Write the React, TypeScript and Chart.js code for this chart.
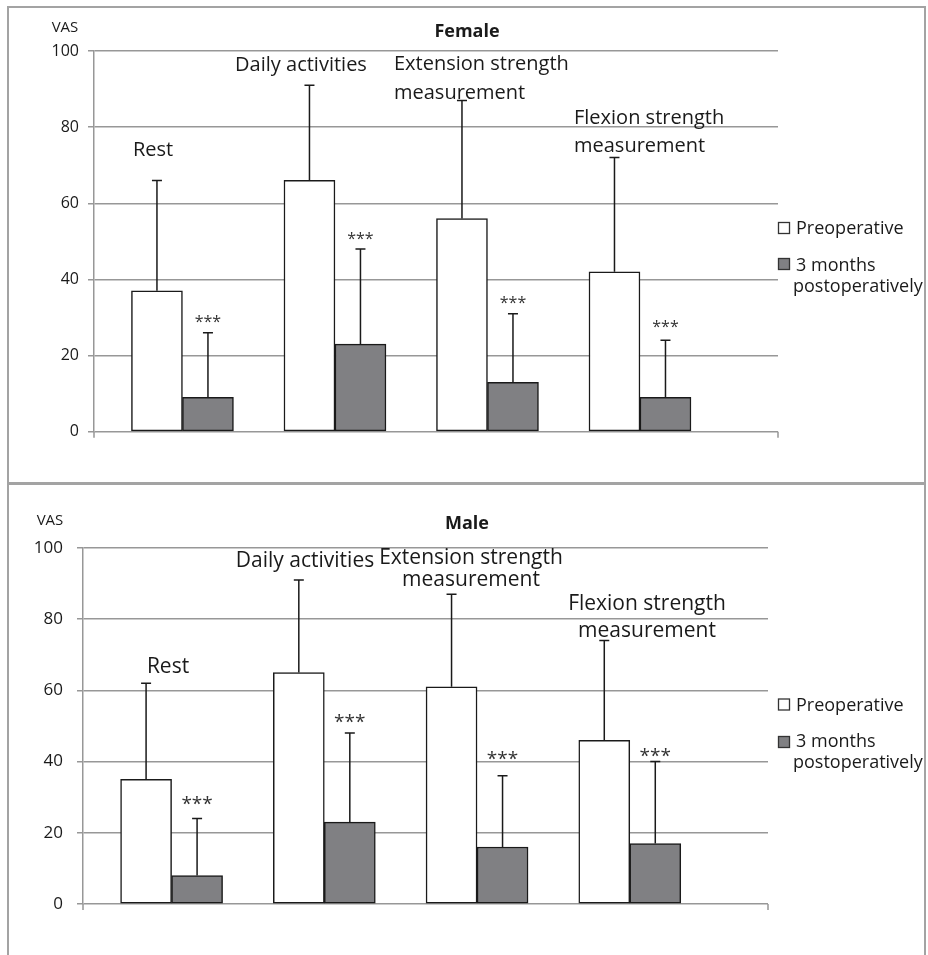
import React, { useEffect, useRef } from "react";
import { Chart, registerables } from "chart.js";

Chart.register(...registerables);

// ---------------- DATA ----------------
const categoryLines = [
  ["Rest"],
  ["Daily activities"],
  ["Extension strength", "measurement"],
  ["Flexion strength", "measurement"],
];
const seriesNames = ["Preoperative", "3 months postoperatively"];
const legendLines = [["Preoperative"], ["3 months", "postoperatively"]];
const yTicks = [0, 20, 40, 60, 80, 100];
const significance = ["***", "***", "***", "***"];

const femalePreop = [37, 66, 56, 42];
const femalePreopSD = [29, 25, 31, 30];
const femalePost = [9, 23, 13, 9];
const femalePostSD = [17, 25, 18, 15];

const malePreop = [35, 65, 61, 46];
const malePreopSD = [27, 26, 26, 28];
const malePost = [8, 23, 16, 17];
const malePostSD = [16, 25, 20, 23];

// ---------------- STYLE / LAYOUT ----------------
const FONT = '"Open Sans", "Noto Sans", sans-serif';
const TEXT = "#1a1a1a";
const GRID = "#979797";
const EDGE = "#1a1a1a";
const GRAY_FILL = "#808083";
const PANEL_BORDER = "#a3a3a3";

type LabelPos = { x: number; y: number; align: CanvasTextAlign; gap: number };

type Layout = {
  canvasTop: number;
  canvasHeight: number;
  area: { left: number; top: number; right: number; bottom: number };
  tickFont: number;
  tickPad: number;
  vas: { x: number; y: number; size: number };
  title: { x: number; y: number; size: number };
  catFont: number;
  cats: LabelPos[];
  legend: { boxX: number; box: number; textX: number; line2X: number; font: number; rows: { boxTop: number; base: number; base2?: number }[] };
  starFont: number;
  starGap: number[];
  barWidth: number;
  xMin: number;
  xMax: number;
};

const femaleLayout: Layout = {
  canvasTop: 0,
  canvasHeight: 482,
  area: { left: 94, top: 51, right: 778, bottom: 431.7 },
  tickFont: 16,
  tickPad: 9,
  vas: { x: 65, y: 32, size: 15 },
  title: { x: 467, y: 37, size: 18 },
  catFont: 20,
  cats: [
    { x: 153, y: 156, align: "center", gap: 29 },
    { x: 301, y: 71, align: "center", gap: 29 },
    { x: 394, y: 69.5, align: "left", gap: 29.5 },
    { x: 574, y: 123.6, align: "left", gap: 28.2 },
  ],
  legend: {
    boxX: 778,
    box: 12,
    textX: 796,
    line2X: 793,
    font: 18,
    rows: [
      { boxTop: 222, base: 234 },
      { boxTop: 258, base: 270.7, base2: 291.7 },
    ],
  },
  starFont: 16,
  starGap: [15, 14, 15, 18],
  barWidth: 51,
  xMin: 0.42,
  xMax: 4.905,
};

const maleLayout: Layout = {
  canvasTop: 486,
  canvasHeight: 469,
  area: { left: 83, top: 548 - 486, right: 768, bottom: 904 - 486 },
  tickFont: 17,
  tickPad: 14,
  vas: { x: 50, y: 525 - 486, size: 15 },
  title: { x: 467, y: 529 - 486, size: 18 },
  catFont: 21,
  cats: [
    { x: 168, y: 673 - 486, align: "center", gap: 24 },
    { x: 305, y: 567.4 - 486, align: "center", gap: 24 },
    { x: 471, y: 563.6 - 486, align: "center", gap: 22 },
    { x: 647, y: 609.6 - 486, align: "center", gap: 27 },
  ],
  legend: {
    boxX: 778,
    box: 12,
    textX: 796,
    line2X: 793,
    font: 18,
    rows: [
      { boxTop: 698.5 - 486, base: 710.7 - 486 },
      { boxTop: 736 - 486, base: 746.7 - 486, base2: 768.3 - 486 },
    ],
  },
  starFont: 19,
  starGap: [20, 16, 22, 11],
  barWidth: 51,
  xMin: 0.42,
  xMax: 4.905,
};

type PanelCfg = {
  title: string;
  preop: number[];
  preopSD: number[];
  post: number[];
  postSD: number[];
  layout: Layout;
};

function makeOverlay(cfg: PanelCfg) {
  const L = cfg.layout;
  return {
    id: "overlay",
    afterDatasetsDraw(chart: any) {
      const ctx: CanvasRenderingContext2D = chart.ctx;
      const yScale = chart.scales.y;
      const sets = [
        { vals: cfg.preop, sds: cfg.preopSD },
        { vals: cfg.post, sds: cfg.postSD },
      ];
      ctx.save();
      ctx.strokeStyle = EDGE;
      ctx.lineWidth = 1.5;
      sets.forEach((s, d) => {
        const meta = chart.getDatasetMeta(d);
        meta.data.forEach((el: any, i: number) => {
          const top = yScale.getPixelForValue(s.vals[i] + s.sds[i]);
          ctx.beginPath();
          ctx.moveTo(el.x, el.y);
          ctx.lineTo(el.x, top);
          ctx.moveTo(el.x - 5, top);
          ctx.lineTo(el.x + 5, top);
          ctx.stroke();
          if (d === 1) {
            ctx.fillStyle = "#333333";
            ctx.font = `${L.starFont}px ${FONT}`;
            ctx.textAlign = "center";
            ctx.textBaseline = "alphabetic";
            const cy = top - L.starGap[i];
            ctx.fillText(significance[i], el.x, cy + 0.58 * L.starFont);
          }
        });
      });
      ctx.restore();
    },
    afterDraw(chart: any) {
      const ctx: CanvasRenderingContext2D = chart.ctx;
      const a = chart.chartArea;
      ctx.save();
      // bottom tick marks at the ends of the category axis
      ctx.strokeStyle = GRID;
      ctx.lineWidth = 1.5;
      ctx.beginPath();
      ctx.moveTo(a.left, a.bottom);
      ctx.lineTo(a.left, a.bottom + 6);
      ctx.moveTo(a.right, a.bottom);
      ctx.lineTo(a.right, a.bottom + 6);
      ctx.stroke();

      ctx.fillStyle = TEXT;
      ctx.textBaseline = "alphabetic";
      // VAS
      ctx.font = `${L.vas.size}px ${FONT}`;
      ctx.textAlign = "center";
      ctx.fillText("VAS", L.vas.x, L.vas.y);
      // Title
      ctx.font = `bold ${L.title.size}px ${FONT}`;
      ctx.fillText(cfg.title, L.title.x, L.title.y);
      // Category labels
      ctx.font = `${L.catFont}px ${FONT}`;
      categoryLines.forEach((lines, i) => {
        const p = L.cats[i];
        ctx.textAlign = p.align;
        lines.forEach((t, k) => ctx.fillText(t, p.x, p.y + k * p.gap));
      });
      // Legend
      const lg = L.legend;
      ctx.font = `${lg.font}px ${FONT}`;
      ctx.textAlign = "left";
      lg.rows.forEach((r, i) => {
        ctx.fillStyle = i === 0 ? "#ffffff" : GRAY_FILL;
        ctx.fillRect(lg.boxX, r.boxTop, lg.box, lg.box);
        ctx.strokeStyle = "#333333";
        ctx.lineWidth = 1.3;
        ctx.strokeRect(lg.boxX + 0.5, r.boxTop + 0.5, lg.box - 1, lg.box - 1);
        ctx.fillStyle = TEXT;
        ctx.fillText(legendLines[i][0], lg.textX, r.base);
        if (legendLines[i][1] && r.base2 !== undefined) {
          ctx.fillText(legendLines[i][1], lg.line2X, r.base2);
        }
      });
      ctx.restore();
    },
  };
}

function Panel({ cfg }: { cfg: PanelCfg }) {
  const ref = useRef<HTMLCanvasElement>(null);
  useEffect(() => {
    const L = cfg.layout;
    const yWidth = 60;
    const chart = new Chart(ref.current as HTMLCanvasElement, {
      type: "bar",
      data: {
        datasets: [
          {
            label: seriesNames[0],
            data: cfg.preop.map((v, i) => ({ x: i + 1, y: v })),
            backgroundColor: "#ffffff",
            borderColor: EDGE,
            borderWidth: 1.5,
            borderSkipped: false,
            barThickness: L.barWidth,
          },
          {
            label: seriesNames[1],
            data: cfg.post.map((v, i) => ({ x: i + 1, y: v })),
            backgroundColor: GRAY_FILL,
            borderColor: EDGE,
            borderWidth: 1.5,
            borderSkipped: false,
            barThickness: L.barWidth,
          },
        ] as any,
      },
      options: {
        animation: false,
        responsive: false,
        maintainAspectRatio: false,
        devicePixelRatio: 1,
        layout: {
          padding: {
            left: L.area.left - yWidth,
            top: L.area.top,
            right: 928 - L.area.right,
            bottom: L.canvasHeight - L.area.bottom,
          },
        },
        plugins: {
          legend: { display: false },
          title: { display: false },
          tooltip: { enabled: false },
        },
        scales: {
          x: {
            type: "linear",
            display: false,
            offset: false,
            bounds: "data",
            grid: { offset: false },
            min: L.xMin,
            max: L.xMax,
            afterBuildTicks: (s: any) => {
              s.ticks = cfg.preop.map((_, i) => ({ value: i + 1 }));
            },
          },
          y: {
            min: 0,
            max: 100,
            afterBuildTicks: (s: any) => {
              s.ticks = yTicks.map((v) => ({ value: v }));
            },
            afterFit: (s: any) => {
              s.width = yWidth;
            },
            ticks: {
              color: TEXT,
              padding: L.tickPad,
              font: { family: FONT, size: L.tickFont },
            },
            grid: { color: GRID, lineWidth: 1.5, tickLength: 6, drawTicks: true },
            border: { display: true, color: GRID, width: 1.5 },
          },
        },
      } as any,
      plugins: [makeOverlay(cfg)],
    });
    return () => chart.destroy();
  }, []);
  const L = cfg.layout;
  return (
    <canvas
      ref={ref}
      width={928}
      height={L.canvasHeight}
      style={{ position: "absolute", left: 0, top: L.canvasTop, width: 928, height: L.canvasHeight }}
    />
  );
}

const female: PanelCfg = {
  title: "Female",
  preop: femalePreop,
  preopSD: femalePreopSD,
  post: femalePost,
  postSD: femalePostSD,
  layout: femaleLayout,
};
const male: PanelCfg = {
  title: "Male",
  preop: malePreop,
  preopSD: malePreopSD,
  post: malePost,
  postSD: malePostSD,
  layout: maleLayout,
};

export default function App() {
  return (
    <div
      style={{
        position: "fixed",
        left: 0,
        top: 0,
        width: 928,
        height: 955,
        overflow: "hidden",
        background: "#ffffff",
      }}
    >
      <div
        style={{
          position: "absolute",
          left: 7,
          top: 6,
          width: 919,
          height: 478,
          boxSizing: "border-box",
          border: `2px solid ${PANEL_BORDER}`,
        }}
      />
      <div
        style={{
          position: "absolute",
          left: 7,
          top: 483,
          width: 919,
          height: 500,
          boxSizing: "border-box",
          border: `2px solid ${PANEL_BORDER}`,
        }}
      />
      <Panel cfg={female} />
      <Panel cfg={male} />
    </div>
  );
}
